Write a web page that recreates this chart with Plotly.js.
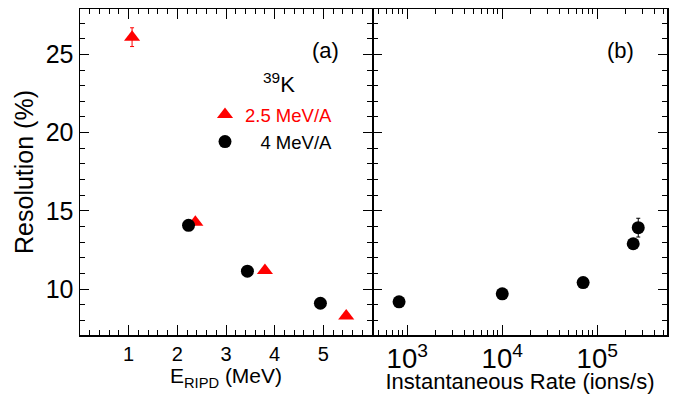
<!DOCTYPE html>
<html><head><meta charset="utf-8">
<script src="https://cdn.plot.ly/plotly-3.0.1.min.js"></script>
<style>html,body{margin:0;padding:0;background:#fff;}#chart{width:680px;height:394px;}</style>
</head><body><div id="chart"></div>
<script>
// Panel (a): resolution vs E_RIPD
const eRed = [1.07, 2.37, 3.80, 5.47];
const resRed = [26.1, 14.27, 11.19, 8.29];
const errRed = [0.6, 0, 0, 0];
const eBlack = [2.23, 3.44, 4.94];
const resBlack = [14.08, 11.15, 9.10];
// Panel (b): resolution vs instantaneous rate
const rate = [820, 10000, 71000, 239000, 270000];
const resRate = [9.19, 9.70, 10.42, 12.90, 13.93];
const errRate = [0, 0, 0, 0, 0.6];
const names = ['2.5 MeV/A', '4 MeV/A'];

const FONT = 'Liberation Sans, Arial, sans-serif';
const traces = [
  {x: eRed, y: resRed, type: 'scatter', mode: 'markers', name: '<span style="color:#ff0000">' + names[0] + '</span>',
   marker: {symbol: 'triangle-up', size: 14, color: '#ff0000'},
   error_y: {type: 'data', array: errRed, visible: true, color: '#ff0000', thickness: 1, width: 2},
   xaxis: 'x', yaxis: 'y'},
  {x: eBlack, y: resBlack, type: 'scatter', mode: 'markers', name: '\u00a0\u00a0\u00a0' + names[1],
   marker: {symbol: 'circle', size: 13, color: '#000000'},
   xaxis: 'x', yaxis: 'y'},
  {x: rate, y: resRate, type: 'scatter', mode: 'markers', showlegend: false,
   marker: {symbol: 'circle', size: 13, color: '#000000'},
   error_y: {type: 'data', array: errRate, visible: true, color: '#000000', thickness: 1, width: 2},
   xaxis: 'x2', yaxis: 'y2'}
];

const W = 680, H = 394;
const yr = [7.07, 27.9];
const axCommon = {showline: true, linecolor: '#000', linewidth: 1.5, mirror: 'allticks', ticks: 'inside',
  tickcolor: '#000', showgrid: false, zeroline: false};

const layout = {
  width: W, height: H, margin: {l: 0, r: 0, t: 0, b: 0},
  paper_bgcolor: '#fff', plot_bgcolor: '#fff', font: {family: FONT, color: '#000'},
  showlegend: true,
  legend: {x: 205/W, y: 1 - 96/H, xanchor: 'left', yanchor: 'top', bgcolor: 'rgba(0,0,0,0)',
    font: {family: FONT, size: 18.5, color: '#000'}, itemwidth: 30, tracegroupgap: 0},
  xaxis: Object.assign({}, axCommon, {domain: [80/W, 372/W], range: [0, 6], ticklen: 10,
    tickvals: [1, 2, 3, 4, 5], tickfont: {family: FONT, size: 20, color: '#000'},
    minor: {dtick: 0.2, tick0: 0, ticks: 'inside', ticklen: 5, tickcolor: '#000', showgrid: false},
    title: {text: 'E<sub>RIPD</sub> (MeV)', font: {family: FONT, size: 21, color: '#000'}, standoff: 4}}),
  yaxis: Object.assign({}, axCommon, {domain: [(H-335)/H, (H-9)/H], range: yr, dtick: 5, tick0: 0, ticklen: 9,
    tickfont: {family: FONT, size: 25, color: '#000'},
    minor: {dtick: 1, ticks: 'inside', ticklen: 5, tickcolor: '#000', showgrid: false},
    title: {text: 'Resolution (%)', font: {family: FONT, size: 25, color: '#000'}, standoff: 5}}),
  xaxis2: Object.assign({}, axCommon, {domain: [373/W, 667/W], type: 'log', range: [Math.log10(436), Math.log10(542000)],
    dtick: 1, ticklen: 10, exponentformat: 'power', anchor: 'y2',
    tickfont: {family: FONT, size: 22, color: '#000'},
    minor: {dtick: 'D1', ticks: 'inside', ticklen: 5, tickcolor: '#000', showgrid: false},
    title: {text: 'Instantaneous Rate (ions/s)', font: {family: FONT, size: 22, color: '#000'}, standoff: 1}}),
  yaxis2: Object.assign({}, axCommon, {domain: [(H-335)/H, (H-9)/H], range: yr, dtick: 5, tick0: 0, ticklen: 9,
    showticklabels: false, anchor: 'x2',
    minor: {dtick: 1, ticks: 'inside', ticklen: 5, tickcolor: '#000', showgrid: false}}),
  annotations: [
    {text: '(a)', xref: 'paper', yref: 'paper', x: 325/W, y: 1 - 50/H, xanchor: 'center', yanchor: 'middle',
      showarrow: false, font: {family: FONT, size: 22, color: '#000'}},
    {text: '(b)', xref: 'paper', yref: 'paper', x: 620/W, y: 1 - 50/H, xanchor: 'center', yanchor: 'middle',
      showarrow: false, font: {family: FONT, size: 22, color: '#000'}},
    {text: '<sup>39</sup>K', xref: 'paper', yref: 'paper', x: 279/W, y: 1 - 83/H, xanchor: 'center', yanchor: 'middle',
      showarrow: false, font: {family: FONT, size: 22, color: '#000'}}
  ]
};
Plotly.newPlot('chart', traces, layout, {displayModeBar: false, staticPlot: true});
</script></body></html>
